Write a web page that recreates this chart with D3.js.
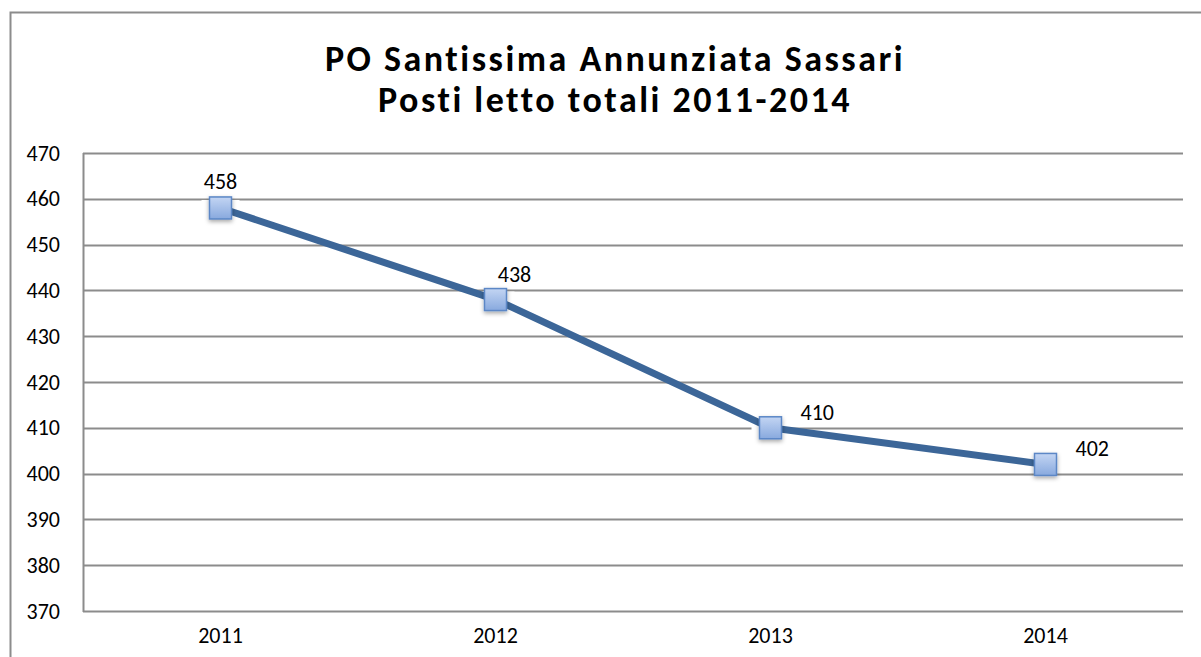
<!DOCTYPE html>
<html>
<head>
<meta charset="utf-8">
<script src="https://cdn.jsdelivr.net/npm/d3@7"></script>
<style>
  body { margin: 0; background: #fff; }
  text { font-family: Carlito, Calibri, "Open Sans", sans-serif; }
</style>
</head>
<body>
<div id="chart"></div>
<script>
// data
const years = ["2011", "2012", "2013", "2014"];
const beds = [458, 438, 410, 402];
const yTicks = [370, 380, 390, 400, 410, 420, 430, 440, 450, 460, 470];
const titleLines = ["PO Santissima Annunziata Sassari", "Posti letto totali 2011-2014"];
// where each data label sits relative to its marker
const labelPos = ["above", "aboveRight", "right", "right"];

const width = 1201, height = 657;
const margin = { top: 153, right: 18, bottom: 46, left: 83 };
const plotWidth = width - margin.left - margin.right;
const plotHeight = height - margin.top - margin.bottom;

const svg = d3.select("#chart")
  .append("svg")
  .attr("width", width)
  .attr("height", height);

const defs = svg.append("defs");
const grad = defs.append("linearGradient")
  .attr("id", "mk").attr("x1", 0).attr("y1", 0).attr("x2", 0).attr("y2", 1);
grad.append("stop").attr("offset", "0%").attr("stop-color", "#c3d5f3");
grad.append("stop").attr("offset", "100%").attr("stop-color", "#88a9de");
const shadow = defs.append("filter").attr("id", "sh")
  .attr("x", "-50%").attr("y", "-50%").attr("width", "200%").attr("height", "200%");
shadow.append("feDropShadow")
  .attr("dx", 0).attr("dy", 2).attr("stdDeviation", 2)
  .attr("flood-color", "#000").attr("flood-opacity", 0.35);

// outer chart border (top + left visible)
svg.append("path")
  .attr("d", `M10.5,${height} V12.5 H${width}`)
  .attr("fill", "none")
  .attr("stroke", "#8c8c8c")
  .attr("stroke-width", 2);

// title, two separate lines
svg.selectAll(".title")
  .data(titleLines)
  .enter()
  .append("text")
  .attr("class", "title")
  .attr("x", 615)
  .attr("y", (d, i) => 71 + i * 41)
  .attr("text-anchor", "middle")
  .attr("font-size", "36px")
  .attr("letter-spacing", "2.5px")
  .attr("font-weight", "bold")
  .attr("fill", "#000")
  .text(d => d);

const g = svg.append("g")
  .attr("transform", `translate(${margin.left}, ${margin.top})`);

const xScale = d3.scaleBand()
  .domain(years)
  .range([0, plotWidth]);

const yScale = d3.scaleLinear()
  .domain([370, 470])
  .range([plotHeight, 0]);

// gridlines
g.selectAll(".grid")
  .data(yTicks)
  .enter()
  .append("line")
  .attr("class", "grid")
  .attr("x1", 0)
  .attr("x2", plotWidth)
  .attr("y1", d => Math.round(yScale(d)) + 0.5)
  .attr("y2", d => Math.round(yScale(d)) + 0.5)
  .attr("stroke", "#8c8c8c")
  .attr("stroke-width", 2);

// left plot edge
g.append("line")
  .attr("x1", 0.5).attr("x2", 0.5)
  .attr("y1", 0).attr("y2", plotHeight + 1)
  .attr("stroke", "#8c8c8c")
  .attr("stroke-width", 2);

// y axis labels
const yAxis = d3.axisLeft(yScale)
  .tickValues(yTicks)
  .tickSize(0)
  .tickPadding(23);
g.append("g")
  .call(yAxis)
  .call(s => s.select(".domain").remove())
  .selectAll("text")
  .attr("font-size", "22px")
  .attr("fill", "#000");

// x axis labels
const xAxis = d3.axisBottom(xScale)
  .tickSize(0)
  .tickPadding(16);
g.append("g")
  .attr("transform", `translate(0, ${plotHeight})`)
  .call(xAxis)
  .call(s => s.select(".domain").remove())
  .selectAll("text")
  .attr("font-size", "22px")
  .attr("fill", "#000");

const pts = years.map((y, i) => ({ x: y, v: beds[i], pos: labelPos[i] }));
const cx = d => xScale(d.x) + xScale.bandwidth() / 2;

// white halo behind markers (breaks gridlines)
g.selectAll(".halo")
  .data(pts)
  .enter()
  .append("rect")
  .attr("class", "halo")
  .attr("x", d => cx(d) - 19)
  .attr("y", d => yScale(d.v) - 8)
  .attr("width", 38)
  .attr("height", 16)
  .attr("fill", "#fff");

// series line
const line = d3.line()
  .x(cx)
  .y(d => yScale(d.v));
g.append("path")
  .datum(pts)
  .attr("d", line)
  .attr("fill", "none")
  .attr("stroke", "#3c6698")
  .attr("stroke-width", 7)
  .attr("stroke-linejoin", "round");

// markers
g.selectAll(".marker")
  .data(pts)
  .enter()
  .append("rect")
  .attr("class", "marker")
  .attr("x", d => cx(d) - 11)
  .attr("y", d => yScale(d.v) - 11)
  .attr("width", 22)
  .attr("height", 22)
  .attr("fill", "url(#mk)")
  .attr("stroke", "#5b87c6")
  .attr("stroke-width", 1.5)
  .attr("filter", "url(#sh)");

// data labels
const off = {
  above: [0, -19, "middle"],
  aboveRight: [19, -18, "middle"],
  right: [30, -8, "start"]
};
g.selectAll(".value")
  .data(pts)
  .enter()
  .append("text")
  .attr("class", "value")
  .attr("x", d => cx(d) + off[d.pos][0])
  .attr("y", d => yScale(d.v) + off[d.pos][1])
  .attr("text-anchor", d => off[d.pos][2])
  .attr("font-size", "22px")
  .attr("fill", "#000")
  .text(d => d.v);
</script>
</body>
</html>
